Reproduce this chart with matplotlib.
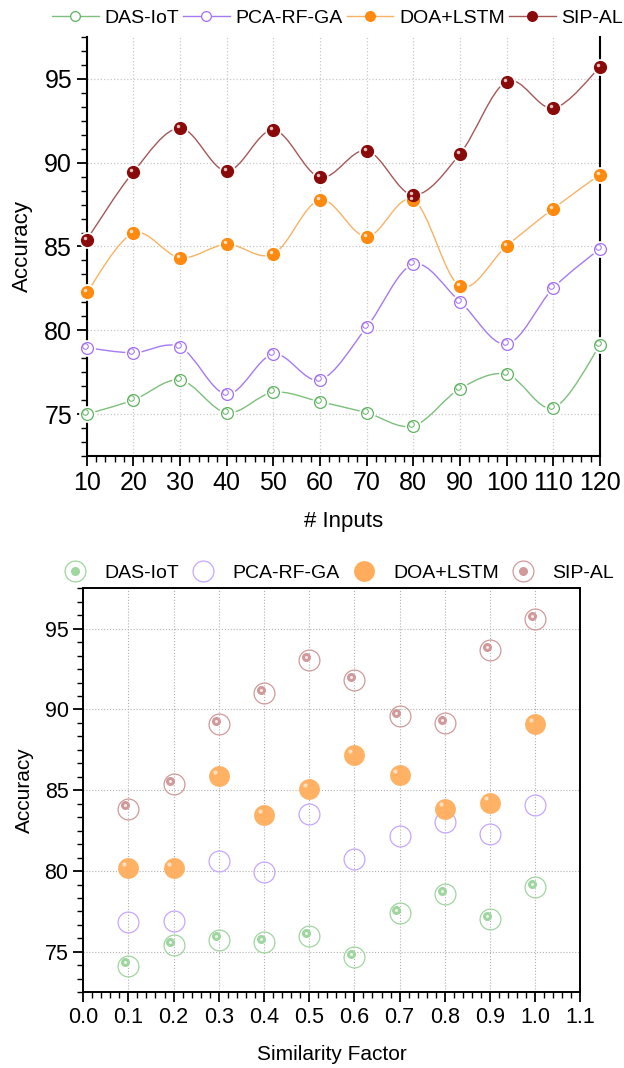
import numpy as np
import matplotlib
matplotlib.use("Agg")
import matplotlib.pyplot as plt
from matplotlib.path import Path
from matplotlib.patches import PathPatch
from matplotlib.lines import Line2D
from matplotlib.legend_handler import HandlerTuple
from matplotlib.ticker import MultipleLocator, AutoMinorLocator
from matplotlib.transforms import offset_copy

plt.rcParams["font.family"] = ["Liberation Sans", "DejaVu Sans"]

# ---------------- Data ----------------
series = ["DAS-IoT", "PCA-RF-GA", "DOA+LSTM", "SIP-AL"]

inputs = [10, 20, 30, 40, 50, 60, 70, 80, 90, 100, 110, 120]
das_inputs = [75.0, 75.84, 77.03, 75.08, 76.3, 75.74, 75.08, 74.3, 76.52, 77.38, 75.38, 79.1]
pca_inputs = [78.96, 78.66, 79.0, 76.19, 78.58, 77.05, 80.18, 83.94, 81.71, 79.18, 82.52, 84.87]
doa_inputs = [82.26, 85.79, 84.33, 85.13, 84.55, 87.78, 85.59, 87.78, 82.64, 85.03, 87.26, 89.29]
sip_inputs = [85.4, 89.45, 92.06, 89.5, 91.95, 89.13, 90.72, 88.07, 90.52, 94.84, 93.25, 95.7]

similarity = [0.1, 0.2, 0.3, 0.4, 0.5, 0.6, 0.7, 0.8, 0.9, 1.0]
das_sim = [74.15, 75.41, 75.76, 75.61, 75.96, 74.67, 77.41, 78.56, 77.04, 79.03]
pca_sim = [76.83, 76.93, 80.64, 79.96, 83.52, 80.72, 82.16, 83.04, 82.27, 84.07]
doa_sim = [80.17, 80.18, 85.9, 83.46, 85.08, 87.2, 85.94, 83.87, 84.24, 89.07]
sip_sim = [83.87, 85.4, 89.1, 90.99, 93.04, 91.8, 89.6, 89.15, 93.66, 95.6]

# ---------------- Styles ----------------
line_cols = ["#7cc07c", "#a57af2", "#f7b365", "#a45858"]
mark_cols = ["#5fb35f", "#a36ef5", "#ff8a10", "#8a0a0a"]
soft_cols = ["#9fd59f", "#c7a6ff", "#ffad5c", "#d09a9a"]


def smooth_path(x, y):
    # Catmull-Rom spline drawn as cubic Bezier segments
    verts = [(x[0], y[0])]
    codes = [Path.MOVETO]
    n = len(x)
    for i in range(n - 1):
        x0, y0 = (x[i - 1], y[i - 1]) if i > 0 else (x[i], y[i])
        x3, y3 = (x[i + 2], y[i + 2]) if i + 2 < n else (x[i + 1], y[i + 1])
        x1, y1 = x[i], y[i]
        x2, y2 = x[i + 1], y[i + 1]
        c1 = (x1 + (x2 - x0) / 6, y1 + (y2 - y0) / 6)
        c2 = (x2 - (x3 - x1) / 6, y2 - (y3 - y1) / 6)
        verts += [c1, c2, (x2, y2)]
        codes += [Path.CURVE4] * 3
    return Path(verts, codes)


fig = plt.figure(figsize=(6.24, 10.68), dpi=100)

# ---------------- Top: # Inputs ----------------
ax1 = fig.add_axes([0.139, 0.573, 0.8224, 0.3924])
top_data = [das_inputs, pca_inputs, doa_inputs, sip_inputs]
hl = offset_copy(ax1.transData, fig=fig, x=-1.4, y=1.4, units="points")
for k, vals in enumerate(top_data):
    ax1.add_patch(PathPatch(smooth_path(inputs, vals), fill=False,
                            edgecolor=line_cols[k], lw=1.0, zorder=3))
    ax1.plot(inputs, vals, "o", ms=11, color="white", zorder=4, clip_on=False)
    if k < 2:
        ax1.plot(inputs, vals, "o", ms=8.5, mfc="white", mec=mark_cols[k],
                 mew=0.9, zorder=5, clip_on=False)
        ax1.plot(inputs, vals, "o", ms=4, mfc="none", mec=mark_cols[k],
                 mew=0.7, zorder=6, clip_on=False, transform=hl)
    else:
        ax1.plot(inputs, vals, "o", ms=8.5, color=mark_cols[k], mec=mark_cols[k],
                 zorder=5, clip_on=False)
        ax1.plot(inputs, vals, "o", ms=2.5, color="white", alpha=0.75,
                 mew=0, zorder=6, clip_on=False, transform=hl)

ax1.set_xlim(10, 120)
ax1.set_ylim(72.5, 97.5)
ax1.xaxis.set_major_locator(MultipleLocator(10))
ax1.xaxis.set_minor_locator(AutoMinorLocator(5))
ax1.yaxis.set_major_locator(MultipleLocator(5))
ax1.yaxis.set_minor_locator(AutoMinorLocator(6))
ax1.grid(True, which="major", color="#c8c8c8", ls=":", lw=0.9)
ax1.spines["top"].set_visible(False)
for s in ["left", "bottom", "right"]:
    ax1.spines[s].set_linewidth(1.5)
ax1.tick_params(which="major", direction="out", length=7, width=1.3, labelsize=18)
ax1.tick_params(which="minor", direction="out", length=4, width=1.0)
ax1.set_xlabel("# Inputs", fontsize=16, labelpad=12)
ax1.set_ylabel("Accuracy", fontsize=16, labelpad=8)

top_handles = []
for k in range(4):
    filled = k >= 2
    top_handles.append(Line2D([], [], color=line_cols[k], lw=1.0, marker="o", ms=7,
                              mfc=mark_cols[k] if filled else "white",
                              mec=mark_cols[k], mew=0.9))
fig.legend(top_handles, series, loc="center", bbox_to_anchor=(0.541, 0.983),
           ncol=4, frameon=False, fontsize=14, handlelength=2.4,
           handletextpad=0.3, columnspacing=0.2, borderaxespad=0)

# ---------------- Bottom: Similarity Factor ----------------
ax2 = fig.add_axes([0.1333, 0.0709, 0.7968, 0.3783])
off = offset_copy(ax2.transData, fig=fig, x=-2.3, y=2.3, units="points")
spot = offset_copy(ax2.transData, fig=fig, x=-3.0, y=3.0, units="points")

ax2.plot(similarity, das_sim, "o", ms=15, mfc="none", mec=soft_cols[0], mew=0.9, zorder=4)
ax2.plot(similarity, das_sim, "o", ms=6.5, color=soft_cols[0], mew=0, zorder=5, transform=off)
ax2.plot(similarity, das_sim, "o", ms=2.2, color="white", alpha=0.8, mew=0, zorder=6, transform=off)

ax2.plot(similarity, pca_sim, "o", ms=15, mfc="none", mec=soft_cols[1], mew=0.9, zorder=4)

ax2.plot(similarity, doa_sim, "o", ms=15, color=soft_cols[2], mew=0, alpha=0.95, zorder=4)
ax2.plot(similarity, doa_sim, "o", ms=3, color="white", alpha=0.6, mew=0, zorder=5, transform=spot)

ax2.plot(similarity, sip_sim, "o", ms=15, mfc="none", mec=soft_cols[3], mew=0.9, zorder=4)
ax2.plot(similarity, sip_sim, "o", ms=6.5, color=soft_cols[3], mew=0, zorder=5, transform=off)
ax2.plot(similarity, sip_sim, "o", ms=2.2, color="white", alpha=0.8, mew=0, zorder=6, transform=off)

ax2.set_xlim(0.0, 1.1)
ax2.set_ylim(72.5, 97.5)
ax2.xaxis.set_major_locator(MultipleLocator(0.1))
ax2.xaxis.set_minor_locator(AutoMinorLocator(5))
ax2.yaxis.set_major_locator(MultipleLocator(5))
ax2.yaxis.set_minor_locator(AutoMinorLocator(6))
ax2.xaxis.set_major_formatter(plt.FormatStrFormatter("%.1f"))
ax2.grid(True, which="major", color="#b0b0b0", ls=":", lw=0.8)
for s in ax2.spines.values():
    s.set_linewidth(1.4)
ax2.tick_params(which="major", direction="out", length=7, width=1.3, labelsize=15.5)
ax2.tick_params(which="minor", direction="out", length=4, width=1.0)
ax2.set_xlabel("Similarity Factor", fontsize=15, labelpad=12)
ax2.set_ylabel("Accuracy", fontsize=15, labelpad=8)

bot_handles = [
    (Line2D([], [], ls="", marker="o", ms=15, mfc="none", mec=soft_cols[0], mew=0.9),
     Line2D([], [], ls="", marker="o", ms=6.5, color=soft_cols[0], mew=0)),
    Line2D([], [], ls="", marker="o", ms=15, mfc="none", mec=soft_cols[1], mew=0.9),
    Line2D([], [], ls="", marker="o", ms=15, color=soft_cols[2], mew=0),
    (Line2D([], [], ls="", marker="o", ms=15, mfc="none", mec=soft_cols[3], mew=0.9),
     Line2D([], [], ls="", marker="o", ms=6.5, color=soft_cols[3], mew=0)),
]
fig.legend(bot_handles, series, loc="center", bbox_to_anchor=(0.543, 0.4635),
           ncol=4, frameon=False, fontsize=14, handlelength=1.2,
           handletextpad=0.9, columnspacing=0.64, borderaxespad=0,
           handler_map={tuple: HandlerTuple(ndivide=1, pad=0)})

fig.savefig("out.png", dpi=100)
